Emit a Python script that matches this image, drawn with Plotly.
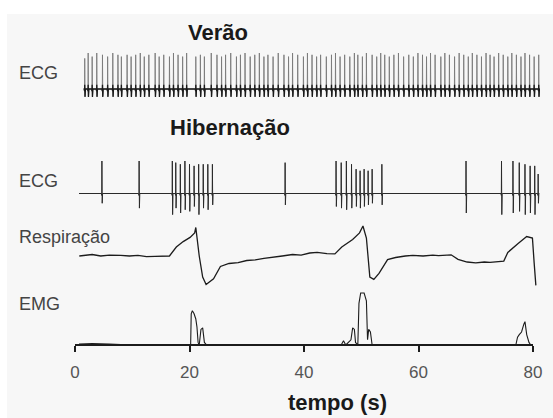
import plotly.graph_objects as go

# ---------------- data ----------------
# Summer ECG: beat times (s) and relative R-wave heights
ecg_summer_beats = [
    1.7, 2.3, 3.0, 3.8, 4.8, 5.7, 6.6, 7.5, 8.1, 9.1,
    9.8, 10.6, 11.4, 12.1, 12.9, 14.0, 14.7, 15.5, 16.5, 17.2,
    18.0, 18.8, 19.5, 21.1, 21.9, 22.6, 23.8, 24.8, 25.6, 26.3,
    27.2, 28.2, 28.9, 29.7, 30.6, 31.4, 32.2, 33.0, 33.7, 34.6,
    35.5, 36.5, 37.3, 38.0, 38.9, 39.9, 40.6, 41.4, 42.2, 42.9,
    43.9, 44.8, 45.5, 46.3, 47.1, 48.0, 48.8, 49.4, 50.2, 50.9,
    51.9, 52.7, 53.4, 54.1, 54.9, 55.7, 56.5, 57.4, 58.3, 59.1,
    59.9, 60.7, 61.4, 62.1, 62.9, 63.9, 64.6, 65.4, 66.3, 67.1,
    67.9, 68.7, 69.4, 70.2, 71.0, 71.8, 72.5, 73.2, 74.0, 74.8,
    75.6, 76.3, 77.1, 77.9, 78.6, 79.4, 80.2, 81.0,
]
ecg_summer_amp = [
    0.85, 1.0, 0.9, 1.0, 0.95, 0.9, 1.0, 0.95, 0.9, 0.95,
    0.9, 0.95, 1.0, 0.9, 0.95, 1.0, 0.9, 0.95, 0.9, 1.0,
    0.95, 0.9, 1.0, 0.9, 0.95, 0.9, 1.0, 0.95, 0.9, 0.95,
    1.0, 0.9, 0.95, 1.0, 0.9, 0.95, 1.0, 0.9, 0.95, 0.9,
    1.0, 0.95, 0.9, 1.0, 0.95, 0.9, 1.0, 0.95, 0.9, 0.95,
    0.9, 0.95, 1.0, 0.9, 0.95, 0.9, 1.0, 0.95, 0.9, 1.0,
    0.95, 0.9, 1.0, 0.95, 0.9, 0.95, 1.0, 0.9, 0.95, 0.9,
    1.0, 0.95, 0.9, 1.0, 0.95, 0.9, 1.0, 0.95, 0.9, 1.0,
    0.95, 0.9, 1.0, 0.95, 0.9, 1.0, 0.95, 0.9, 1.0, 0.95,
    0.9, 1.0, 0.95, 0.9, 1.0, 0.95, 0.9, 0.95,
]
ecg_summer_start, ecg_summer_end = 1.5, 81.2

# Hibernation ECG: beat times (s), R-wave heights and S-wave depths
ecg_hib_beats = [4.7, 11.2,
                 17.0, 17.6, 18.4, 19.2, 20.0, 20.8, 21.6, 22.4, 23.2, 24.0,
                 36.7,
                 45.6, 46.5, 47.4, 48.3, 49.1, 49.8, 50.5, 51.2, 51.9, 53.6,
                 68.3,
                 74.5, 76.5, 77.6, 78.6, 79.5, 80.3, 80.9]
ecg_hib_up = [1.0, 1.0,
              1.0, 0.95, 0.9, 1.0, 0.9, 0.85, 0.9, 0.9, 0.9, 0.9,
              0.95,
              1.0, 0.95, 1.0, 0.9, 0.75, 0.7, 0.75, 0.7, 0.75, 0.9,
              1.0,
              1.0, 1.0, 0.95, 0.9, 0.85, 0.85, 0.6]
ecg_hib_down = [-0.3, -0.45,
                -0.65, -0.45, -0.6, -0.5, -0.55, -0.4, -0.65, -0.45, -0.5, -0.35,
                -0.35,
                -0.4, -0.45, -0.5, -0.45, -0.4, -0.45, -0.4, -0.35, -0.3, -0.35,
                -0.6,
                -0.65, -0.6, -0.55, -0.65, -0.6, -0.65, -0.3]
ecg_hib_start, ecg_hib_end = 0.7, 81.1

# Respiration (arbitrary units)
resp_t = [0.75, 2.0, 3.0, 4.5, 6.0, 8.0, 9.5, 11.0, 12.5, 14.0, 16.5,
          17.7, 18.9, 20.1, 20.9, 21.1, 21.7, 22.3, 22.9,
          24.2, 25.4, 26.9, 28.5, 30.0, 31.5, 33.0, 34.5, 36.2, 38.0, 39.5,
          41.0, 42.3, 44.0, 45.4,
          46.6, 47.5, 48.5, 49.7, 50.3, 50.9, 51.2, 51.5, 52.2,
          53.1, 54.6, 56.0, 57.7, 59.0, 60.8, 62.5, 63.5, 65.7, 66.9,
          68.5, 70.0, 71.5, 72.5, 74.9,
          75.6, 76.5, 77.4, 78.9, 79.9, 80.2, 80.5]
resp_v = [0.0, 0.02, 0.05, 0.0, 0.03, 0.02, 0.0, 0.02, -0.02, -0.01, 0.0,
          0.3, 0.48, 0.62, 0.77, 0.95, 0.0, -0.7, -0.95,
          -0.76, -0.35, -0.25, -0.22, -0.15, -0.13, -0.08, -0.05, 0.0, 0.05, 0.03,
          0.1, 0.12, 0.08, 0.07,
          0.3, 0.42, 0.55, 0.77, 1.0, 0.6, -0.23, -0.7, -0.78,
          -0.58, -0.12, -0.05, 0.0, 0.02, 0.0, 0.03, 0.01, 0.04, -0.11,
          -0.2, -0.23, -0.2, -0.21, -0.17,
          0.12, 0.28, 0.42, 0.65, 0.6, -0.23, -0.98]

# EMG (arbitrary units)
emg_t = [0.7, 3.0, 6.0, 10.0, 20.2, 20.3, 20.5, 20.8, 21.1, 21.3, 21.5, 21.7,
         22.0, 22.3, 22.6, 23.0, 46.5, 46.9, 47.3, 48.2, 48.5, 48.8, 49.0, 49.4,
         49.6, 49.9, 50.5, 50.9, 51.1, 51.3, 51.6, 51.9, 77.0, 77.3, 77.6, 78.0,
         78.4, 78.6, 78.9, 79.3, 79.6, 80.0]
emg_v = [0.02, 0.03, 0.02, 0.0, 0.0, 0.6, 0.66, 0.6, 0.5, 0.35, 0.05, 0.0,
         0.3, 0.33, 0.05, 0.0, 0.0, 0.08, 0.0, 0.1, 0.33, 0.3, 0.05, 0.0,
         0.8, 1.0, 1.0, 0.85, 0.1, 0.3, 0.25, 0.0, 0.0, 0.15, 0.2, 0.25,
         0.4, 0.45, 0.2, 0.05, 0.0, 0.0]

x_ticks = [0, 20, 40, 60, 80]
x_tick_labels = ["0", "20", "40", "60", "80"]
x_title = "tempo (s)"
title_summer = "Verão"
title_hib = "Hibernação"
row_labels = ["ECG", "ECG", "Respiração", "EMG"]

# ---------------- layout geometry (pixels) ----------------
W, H = 553, 418
ML, MR, MT, MB = 68, 12, 0, 48
PW = W - ML - MR
PH = H - MT - MB
X_PX0, X_PX80 = 75.0, 533.0
px_per_s = (X_PX80 - X_PX0) / 80.0
x_range = [(ML - X_PX0) / px_per_s, (W - MR - X_PX0) / px_per_s]
AXIS_PY = 345


def pfx(px):
    return (px - ML) / PW


def pfy(py):
    return (MT + PH - py) / PH


def yaxis_cfg(py_top, py_bot, py_zero, ppu):
    return dict(domain=[pfy(py_bot), pfy(py_top)],
                range=[(py_zero - py_bot) / ppu, (py_zero - py_top) / ppu],
                visible=False, anchor="x", fixedrange=True)


def ecg_wave(beats, ups, downs, t0, t1):
    xs, ys = [t0], [0.0]
    for t, u, d in zip(beats, ups, downs):
        xs += [t - 0.09, t - 0.03, t, t + 0.05, t + 0.12]
        ys += [0.0, -0.06, u, d, 0.0]
    xs.append(t1)
    ys.append(0.0)
    return xs, ys


line_col = "#1c1c1c"
fig = go.Figure()

# summer ECG: thin grey R spikes plus a dark, busy baseline band
sx, sy = ecg_wave(ecg_summer_beats, ecg_summer_amp,
                  [-0.2] * len(ecg_summer_beats), ecg_summer_start, ecg_summer_end)
fig.add_trace(go.Scatter(x=sx, y=sy, mode="lines", yaxis="y",
                         line=dict(color="#7a7a7a", width=0.9)))
bx, by = ecg_wave(ecg_summer_beats, [0.12] * len(ecg_summer_beats),
                  [-0.22] * len(ecg_summer_beats), ecg_summer_start, ecg_summer_end)
fig.add_trace(go.Scatter(x=bx, y=by, mode="lines", yaxis="y",
                         line=dict(color="#1a1a1a", width=1.3)))

hx, hy = ecg_wave(ecg_hib_beats, ecg_hib_up, ecg_hib_down, ecg_hib_start, ecg_hib_end)
fig.add_trace(go.Scatter(x=hx, y=hy, mode="lines", yaxis="y2",
                         line=dict(color="#2a2a2a", width=1)))
fig.add_trace(go.Scatter(x=resp_t, y=resp_v, mode="lines", yaxis="y3",
                         line=dict(color=line_col, width=1.3)))
fig.add_trace(go.Scatter(x=emg_t, y=emg_v, mode="lines", yaxis="y4",
                         line=dict(color=line_col, width=1.1)))

bg = "#f7f7f7"
ann = []
ann.append(dict(text=f"<b>{title_summer}</b>", x=pfx(218), y=pfy(33),
                xanchor="center", yanchor="middle",
                font=dict(family="Liberation Sans", size=22, color="#1a1a1a")))
ann.append(dict(text=f"<b>{title_hib}</b>", x=pfx(230), y=pfy(127),
                xanchor="center", yanchor="middle",
                font=dict(family="Liberation Sans", size=22, color="#1a1a1a")))
ann.append(dict(text=f"<b>{x_title}</b>", x=pfx(337), y=pfy(402),
                xanchor="center", yanchor="middle",
                font=dict(family="Liberation Sans", size=22, color="#1a1a1a")))
for lab, py in zip(row_labels, [72.5, 180.5, 236.5, 304]):
    ann.append(dict(text=lab, x=pfx(17), y=pfy(py), xanchor="left", yanchor="middle",
                    font=dict(family="Liberation Sans", size=18, color="#444444")))
for a in ann:
    a.update(xref="paper", yref="paper", showarrow=False)

shapes = [
    dict(type="rect", xref="paper", yref="paper", x0=pfx(0), x1=pfx(W), y0=pfy(14), y1=pfy(-2),
         fillcolor="white", line=dict(width=0), layer="below"),
    dict(type="rect", xref="paper", yref="paper", x0=pfx(-2), x1=pfx(7), y0=pfy(H + 2), y1=pfy(-2),
         fillcolor="white", line=dict(width=0), layer="below"),
    dict(type="line", xref="x", yref="paper", x0=x_ticks[0], x1=x_ticks[-1],
         y0=pfy(AXIS_PY), y1=pfy(AXIS_PY), line=dict(color="#1c1c1c", width=2)),
]

fig.update_layout(
    width=W, height=H, autosize=False,
    margin=dict(l=ML, r=MR, t=MT, b=MB, pad=0),
    paper_bgcolor=bg, plot_bgcolor=bg,
    showlegend=False,
    xaxis=dict(range=x_range, anchor="free", position=pfy(AXIS_PY),
               tickmode="array", tickvals=x_ticks, ticktext=x_tick_labels,
               ticks="outside", ticklen=6, tickwidth=1.5, tickcolor="#1c1c1c",
               showline=False, showgrid=False, zeroline=False,
               tickfont=dict(family="Liberation Sans", size=17, color="#555555"),
               ticklabelstandoff=6, fixedrange=True),
    yaxis=yaxis_cfg(40, 112, 89, 36),
    yaxis2=yaxis_cfg(145, 225, 193.5, 32.5),
    yaxis3=yaxis_cfg(215, 295, 256, 30),
    yaxis4=yaxis_cfg(280, 362, 345, 52),
    annotations=ann,
    shapes=shapes,
)

fig.write_html(
    "out.html",
    config={"displayModeBar": False},
    post_script="document.body.style.margin='0';document.body.style.padding='0';"
                "document.documentElement.style.overflow='hidden';",
)
